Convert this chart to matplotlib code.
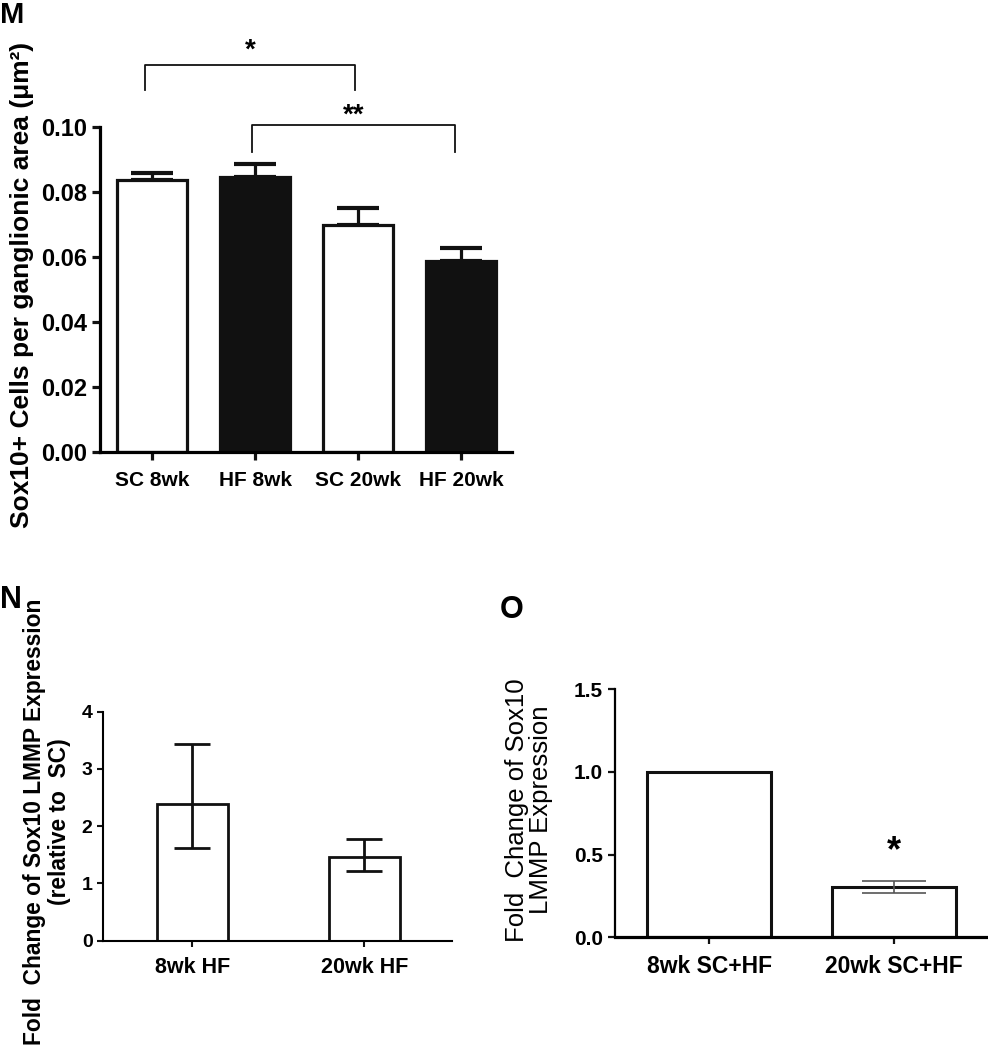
import matplotlib
matplotlib.use("Agg")
import matplotlib.pyplot as plt
import numpy as np

W, H = 988, 1050
ARIAL = ["Liberation Sans", "DejaVu Sans"]

# panel M
m_groups = ["SC 8wk", "HF 8wk", "SC 20wk", "HF 20wk"]
m_means = [0.0837, 0.0844, 0.0698, 0.0586]
m_sem = [0.0020, 0.0041, 0.0052, 0.0041]
m_fill = ["white", "#111111", "white", "#111111"]

# panel N
n_groups = ["8wk HF", "20wk HF"]
n_means = [2.38, 1.47]
n_err_lo = [0.76, 0.26]
n_err_hi = [1.06, 0.31]

# panel O
o_groups = ["8wk SC+HF", "20wk SC+HF"]
o_means = [1.0, 0.305]
o_sem = [0.0, 0.038]


def rect(left, right, bottom, top):
    return [left / W, 1 - bottom / H, (right - left) / W, (bottom - top) / H]


def style(ax, lw, ticklen):
    for s in ["top", "right"]:
        ax.spines[s].set_visible(False)
    for s in ["left", "bottom"]:
        ax.spines[s].set_linewidth(lw)
    ax.tick_params(direction="out", length=ticklen, width=lw, color="#111111")


fig = plt.figure(figsize=(W / 100, H / 100), dpi=100)

# ---- M ----
ax = fig.add_axes(rect(100, 512, 452, 126.7))
x = np.arange(len(m_groups))
ax.bar(x, m_means, width=0.68, color=m_fill, edgecolor="#111111", linewidth=2.3, zorder=2)
ax.errorbar(x, m_means, yerr=[np.zeros(4), m_sem], fmt="none", ecolor="#111111",
            elinewidth=2.3, capsize=15, capthick=3, zorder=1)
ax.set_xlim(-0.505, 3.495)
ax.set_ylim(0, 0.10)
ax.set_yticks([0, 0.02, 0.04, 0.06, 0.08, 0.10])
ax.set_yticklabels(["%.2f" % v for v in ax.get_yticks()], family=ARIAL, weight="bold", fontsize=17)
ax.set_xticks(x)
ax.set_xticklabels(m_groups, family=ARIAL, weight="bold", fontsize=15)
style(ax, 2.3, 6)
ax.tick_params(axis="x", pad=8)
# significance brackets
for x0, x1, ytop, ybot, lab, ys in [(-0.07, 1.97, 0.119, 0.1114, "*", 0.1235),
                                    (0.97, 2.94, 0.1004, 0.0923, "**", 0.1035)]:
    ax.plot([x0, x0, x1, x1], [ybot, ytop, ytop, ybot], color="#111111", lw=1.3, clip_on=False)
    ax.text((x0 + x1) / 2, ys, lab, ha="center", va="center", fontsize=20, weight="bold",
            family=ARIAL)
fig.text(22 / W, 1 - 285 / H, "Sox10+ Cells per ganglionic area (μm²)", rotation=90,
         ha="center", va="center", family=ARIAL, weight="bold", fontsize=19)
fig.text(0 / W, 1 - 1 / H, "M", ha="left", va="top", family=ARIAL, weight="bold", fontsize=21)

# ---- N ----
ax = fig.add_axes(rect(103, 452, 940.7, 711.7))
x = np.arange(len(n_groups))
ax.bar(x, n_means, width=0.41, color="white", edgecolor="#111111", linewidth=2, zorder=1)
ax.errorbar(x, n_means, yerr=[n_err_lo, n_err_hi], fmt="none", ecolor="#111111",
            elinewidth=2, capsize=13, capthick=2, zorder=2)
ax.set_xlim(-0.52, 1.51)
ax.set_ylim(0, 4)
ax.set_yticks([0, 1, 2, 3, 4])
ax.set_yticklabels(["0", "1", "2", "3", "4"], family=ARIAL, weight="bold", fontsize=14)
ax.set_xticks(x)
ax.set_xticklabels(n_groups, family=ARIAL, weight="bold", fontsize=15.5)
style(ax, 1.5, 4)
ax.tick_params(axis="x", pad=8)
fig.text(47 / W, 1 - 822 / H, "Fold  Change of Sox10 LMMP Expression\n(relative to  SC)",
         rotation=90, ha="center", va="center", multialignment="center",
         family=ARIAL, weight="bold", fontsize=16.4, linespacing=1.1)
fig.text(0 / W, 1 - 600 / H, "N", ha="left", va="center", family=ARIAL, weight="bold", fontsize=22)

# ---- O ----
ax = fig.add_axes(rect(615, 988, 937.3, 689.3))
x = np.arange(len(o_groups))
ax.bar(x, o_means, width=0.67, color="white", edgecolor="#111111", linewidth=2.2, zorder=1)
ax.errorbar(x[1:], o_means[1:], yerr=o_sem[1:], fmt="none", ecolor="#555555",
            elinewidth=1.2, capsize=23, capthick=1.2, zorder=2)
ax.text(x[1], 0.518, "*", ha="center", va="center", fontsize=26, weight="bold", family=ARIAL)
ax.set_xlim(-0.51, 1.51)
ax.set_ylim(0, 1.5)
ax.set_yticks([0, 0.5, 1.0, 1.5])
ax.set_yticklabels(["0.0", "0.5", "1.0", "1.5"], family=ARIAL, weight="bold", fontsize=15)
ax.set_xticks(x)
ax.set_xticklabels(o_groups, family=ARIAL, weight="bold", fontsize=16.5)
style(ax, 1.6, 5)
ax.spines["bottom"].set_linewidth(2.3)
ax.tick_params(axis="x", pad=8)
fig.text(529 / W, 1 - 810 / H, "Fold  Change of Sox10\nLMMP Expression", rotation=90,
         ha="center", va="center", multialignment="center", family=ARIAL, fontsize=18.5,
         linespacing=1.05)
fig.text(500 / W, 1 - 610 / H, "O", ha="left", va="center", family=ARIAL, weight="bold", fontsize=22)

fig.savefig("out.png", dpi=100)
